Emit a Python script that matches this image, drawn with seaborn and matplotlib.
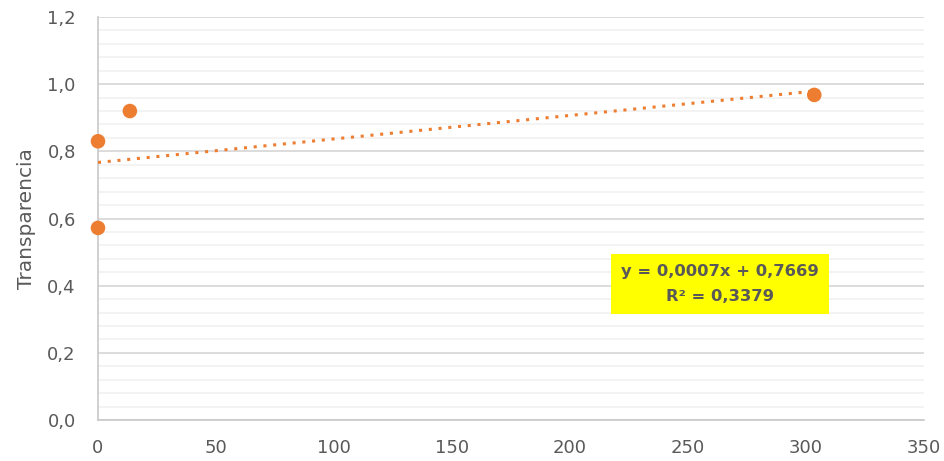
import numpy as np
import pandas as pd
import matplotlib
matplotlib.use("Agg")
import matplotlib.pyplot as plt
from matplotlib.ticker import MultipleLocator, FuncFormatter
import seaborn as sns

# Observed points
x_vals = [0, 0, 13.5, 303.5]
y_vals = [0.83, 0.572, 0.92, 0.968]

# Linear trend coefficients shown in the label
slope = 0.0007
intercept = 0.7669
r_squared = 0.3379

x_ticks = [0, 50, 100, 150, 200, 250, 300, 350]
y_ticks = [0.0, 0.2, 0.4, 0.6, 0.8, 1.0, 1.2]

sns.set_theme(style="white")
plt.rcParams["font.family"] = ["DejaVu Sans"]

ORANGE = "#ED7D31"
TEXT = "#595959"

fig = plt.figure(figsize=(9.45, 4.61), dpi=100)
ax = fig.add_axes([0.1037, 0.0889, 0.8741, 0.8742])

df = pd.DataFrame({"x": x_vals, "y": y_vals})
trend_x = np.array([0.0, max(x_vals)])
trend = pd.DataFrame({"x": trend_x, "y": intercept + slope * trend_x})

sns.lineplot(data=trend, x="x", y="y", ax=ax, color=ORANGE, lw=2.2,
             linestyle=(0, (1, 2.2)), zorder=3)
sns.scatterplot(data=df, x="x", y="y", ax=ax, color=ORANGE, s=110,
                edgecolor="none", zorder=4, clip_on=False)

ax.set_xlim(0, 350)
ax.set_ylim(0, 1.2)
ax.yaxis.set_minor_locator(MultipleLocator(0.04))
ax.set_xticks(x_ticks)
ax.set_yticks(y_ticks)
ax.yaxis.set_major_formatter(FuncFormatter(lambda v, p: f"{v:.1f}".replace(".", ",")))

ax.grid(axis="y", which="major", color="#d9d9d9", lw=1.3, zorder=0)
ax.grid(axis="y", which="minor", color="#f0f0f0", lw=1.1, zorder=0)
ax.grid(axis="x", which="both", visible=False)
ax.set_axisbelow(True)

for side in ["top", "right"]:
    ax.spines[side].set_visible(False)
for side in ["left", "bottom"]:
    ax.spines[side].set_color("#c8c8c8")
    ax.spines[side].set_linewidth(1.2)

ax.tick_params(axis="both", which="major", direction="out", length=6,
               width=1.1, color="#c8c8c8", labelcolor=TEXT, labelsize=13)
ax.tick_params(axis="y", which="major", pad=10)
ax.tick_params(axis="y", which="minor", length=0)
ax.tick_params(axis="x", which="major", pad=8)

ax.set_xlabel("")
ax.set_ylabel("Transparencia", color=TEXT, fontsize=14.5, labelpad=8)

label = (f"y = {slope:.4f}x + {intercept:.4f}".replace(".", ",")
         + "\n" + f"R² = {r_squared:.4f}".replace(".", ","))
ax.text(263.5, 0.405, label, ha="center", va="center", fontsize=11.8,
        fontweight="bold", color=TEXT, linespacing=1.85, zorder=5,
        bbox=dict(boxstyle="square,pad=0.6", facecolor="#FFFF00", edgecolor="none"))

fig.savefig("out.png", dpi=100)
